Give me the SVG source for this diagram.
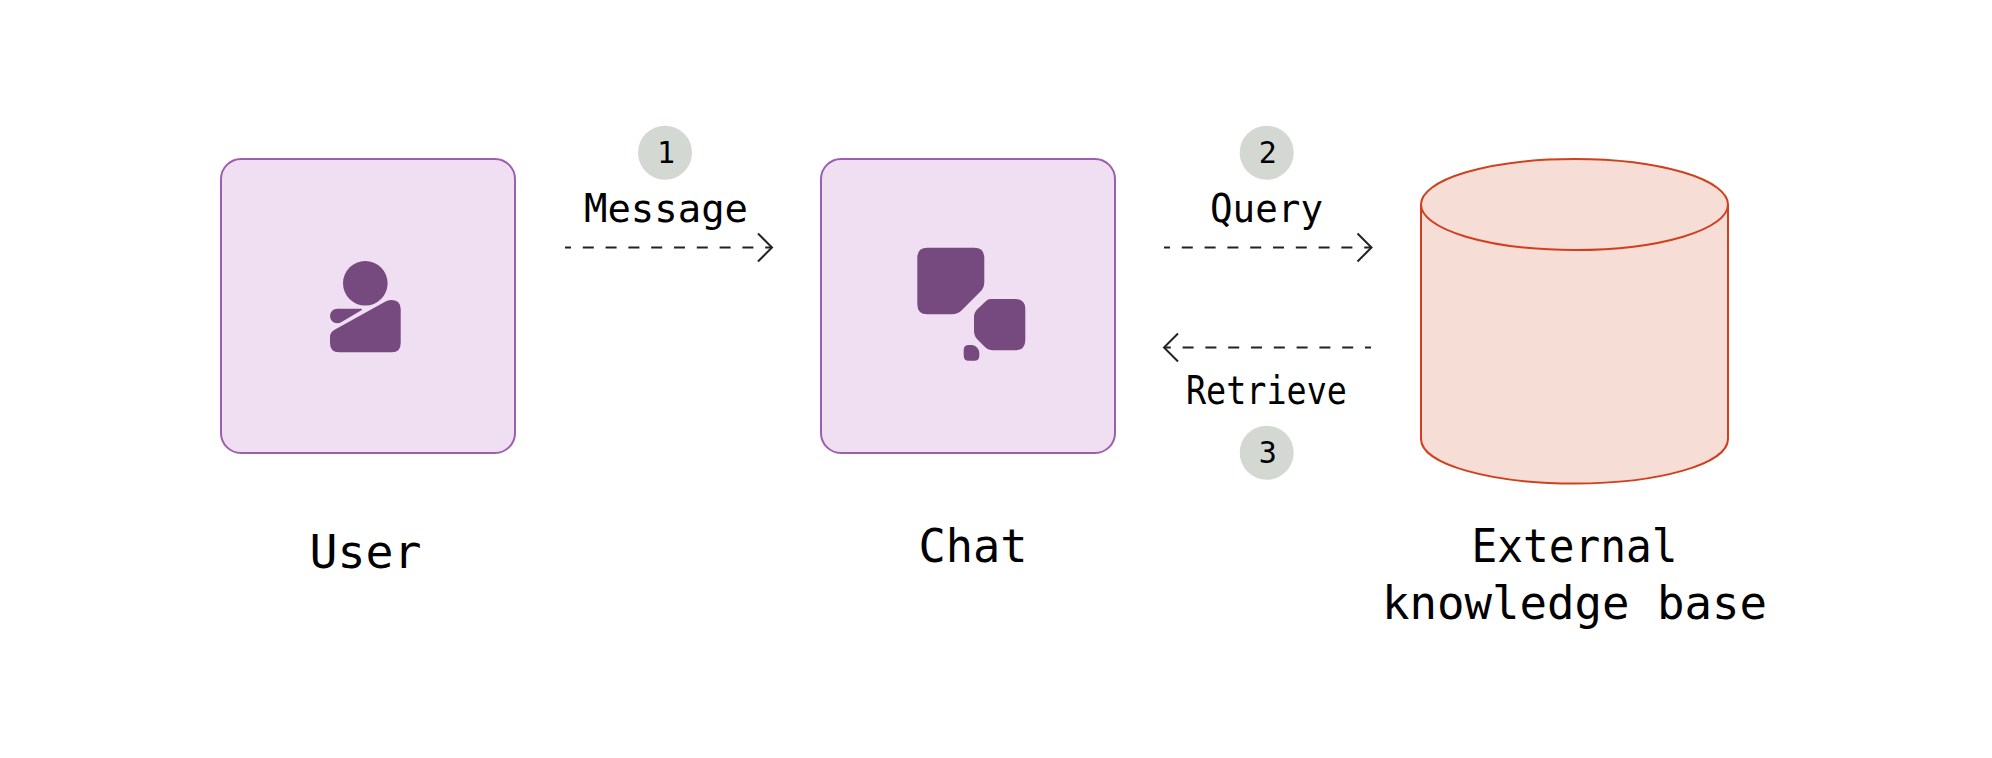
<svg xmlns="http://www.w3.org/2000/svg" width="1992" height="758" viewBox="0 0 1992 758">
<style>
.box{fill:#F0DFF2;stroke:#9B5FAE;stroke-width:2}
.icon{fill:#764A7F}
.cyl{fill:#F6DDD5;stroke:#D0401F;stroke-width:2}
.badge{fill:#D3D8D3}
text{font-family:"DejaVu Sans Mono","Liberation Mono",monospace;fill:#000;text-anchor:middle}
.big{font-size:46px}
.mid{font-size:38.5px}
.num{font-size:30px}
.dash{fill:none;stroke:#222;stroke-width:2;stroke-dasharray:11 11.8}
.head{fill:none;stroke:#222;stroke-width:2}
</style>
<rect width="1992" height="758" fill="#fff"/>
<g id="user">
<rect class="box" x="221" y="159" width="294" height="294" rx="20"/>
<circle class="icon" cx="365.300" cy="283.300" r="22.300"/>
<path class="icon" d="M335 329.500 L386 301.300 Q389 300 392 300 Q400.700 300.500 400.700 309 L400.700 343 Q400.700 352.300 392 352.300 L339 352.300 Q330 352.300 330 343 L330 337 Q330 332 335 329.500 Z"/>
<path class="icon" d="M337.300 308.700 L361 308.700 Q363 309 361 310.500 L342 321.700 Q339.500 323.300 337.300 323.300 A7.300 7.300 0 0 1 337.300 308.700 Z"/>
<text class="big" x="365.500" y="568" textLength="112" lengthAdjust="spacingAndGlyphs">User</text>
</g>
<g id="chat">
<rect class="box" x="821" y="159" width="294" height="294" rx="20"/>
<path class="icon" d="M927.300 247.700 L974.300 247.700 Q984.300 247.700 984.300 257.700 L984.300 282 Q984.300 288 980.500 291.500 L961.500 310.500 Q957.500 314.300 952 314.300 L927.300 314.300 Q917.300 314.300 917.300 304.300 L917.300 257.700 Q917.300 247.700 927.300 247.700 Z"/>
<path class="icon" d="M990 299 L1015.300 299 Q1025.300 299 1025.300 309 L1025.300 340.300 Q1025.300 350.300 1015.300 350.300 L993 350.300 Q988.500 350.300 985 347 L977.500 339.500 Q974 336 974 331 L974 317 Q974 312.500 977.500 309 L985 302 Q987.500 299 990 299 Z"/>
<path class="icon" d="M968.700 345 L972 345 Q975 345 977 347.500 Q979.300 350 979.300 352.500 L979.300 355.700 Q979.300 360.700 974.300 360.700 L968.700 360.700 Q963.700 360.700 963.700 355.700 L963.700 350 Q963.700 345 968.700 345 Z"/>
<text class="big" x="973" y="562" textLength="109" lengthAdjust="spacingAndGlyphs">Chat</text>
</g>
<g id="kb">
<path class="cyl" d="M1421 204.500 L1421 439 C1421 464 1490 483.500 1574.500 483.500 C1659 483.500 1728 464 1728 439 L1728 204.500"/>
<ellipse class="cyl" cx="1574.500" cy="204.500" rx="153.500" ry="45.500"/>
<text class="big" x="1574.500" y="562" textLength="206" lengthAdjust="spacingAndGlyphs">External</text>
<text class="big" x="1574.500" y="619" textLength="385" lengthAdjust="spacingAndGlyphs">knowledge base</text>
</g>
<g id="connectors">
<path class="dash" d="M565 247.500 H772" stroke-dashoffset="5"/>
<path class="head" d="M758 233.500 L772 247.500 L758 261.500"/>
<path class="dash" d="M1164 247.500 H1371.500" stroke-dashoffset="5"/>
<path class="head" d="M1357.500 233.500 L1371.500 247.500 L1357.500 261.500"/>
<path class="dash" d="M1371 347.500 H1164" stroke-dashoffset="5"/>
<path class="head" d="M1178 333.500 L1164 347.500 L1178 361.500"/>
</g>
<g id="step1"><circle class="badge" cx="665" cy="152.700" r="27"/><text class="num" x="666" y="163">1</text></g>
<g id="step2"><circle class="badge" cx="1266.700" cy="152.700" r="27"/><text class="num" x="1267.700" y="163">2</text></g>
<g id="step3"><circle class="badge" cx="1266.700" cy="452.700" r="27"/><text class="num" x="1267.700" y="463">3</text></g>
<text class="mid" x="666" y="222" textLength="164" lengthAdjust="spacingAndGlyphs">Message</text>
<text class="mid" x="1266.500" y="222" textLength="113" lengthAdjust="spacingAndGlyphs">Query</text>
<text class="mid" x="1266.500" y="404" textLength="161" lengthAdjust="spacingAndGlyphs">Retrieve</text>
</svg>
